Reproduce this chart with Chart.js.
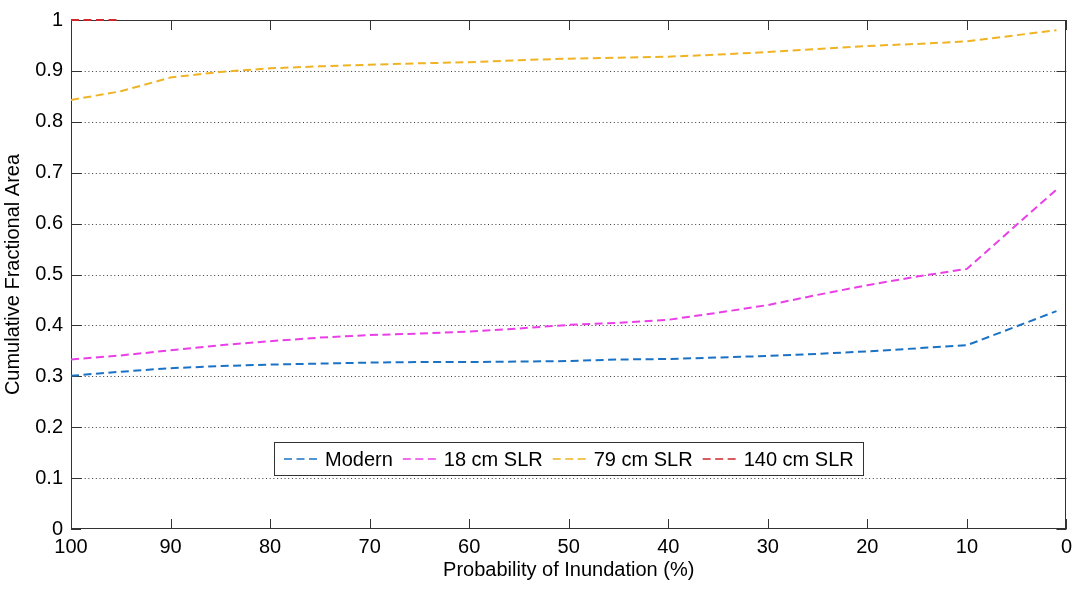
<!DOCTYPE html>
<html>
<head>
<meta charset="utf-8">
<script src="https://cdn.jsdelivr.net/npm/chart.js@4.4.1/dist/chart.umd.min.js"></script>
<style>
  html, body { margin: 0; padding: 0; background: #fff; }
  #wrap { width: 1078px; height: 589px; position: relative; }
</style>
</head>
<body>
<div id="wrap"><canvas id="chart"></canvas></div>
<script>
// Probability of inundation (%) at which each cumulative area was evaluated
const probability = [100, 95, 90, 85, 80, 75, 70, 65, 60, 55, 50, 45, 40, 35, 30, 25, 20, 15, 10, 1];

// Cumulative fractional area per sea-level scenario
const modern = [0.301, 0.309, 0.316, 0.320, 0.323, 0.325, 0.327, 0.328, 0.328, 0.329, 0.330, 0.333, 0.334, 0.337, 0.340, 0.344, 0.349, 0.355, 0.361, 0.428];
const slr18  = [0.333, 0.341, 0.351, 0.361, 0.369, 0.376, 0.381, 0.384, 0.388, 0.394, 0.401, 0.405, 0.411, 0.425, 0.440, 0.460, 0.479, 0.496, 0.511, 0.667];
const slr79  = [0.843, 0.860, 0.887, 0.898, 0.905, 0.909, 0.912, 0.915, 0.917, 0.921, 0.924, 0.926, 0.928, 0.932, 0.937, 0.943, 0.949, 0.953, 0.958, 0.980];

// The 140 cm scenario is fully inundated over its short range
const probability140 = [100, 95];
const slr140 = [1, 1];

const seriesNames = ['Modern', '18 cm SLR', '79 cm SLR', '140 cm SLR'];

const xTickValues = [100, 90, 80, 70, 60, 50, 40, 30, 20, 10, 0];
const yTickValues = [0, 0.1, 0.2, 0.3, 0.4, 0.5, 0.6, 0.7, 0.8, 0.9, 1];
const yTickLabels = ['0', '0.1', '0.2', '0.3', '0.4', '0.5', '0.6', '0.7', '0.8', '0.9', '1'];

const lineColors = ['#1b72c4', '#ea3fe6', '#efb323', '#d0262e'];
const FONT = '"Liberation Sans", Arial, Helvetica, sans-serif';

Chart.defaults.font.family = FONT;
Chart.defaults.color = '#000';

const pairs = (xs, ys) => xs.map((v, i) => ({ x: v, y: ys[i] }));

function lineDataset(label, points, color) {
  return {
    label,
    data: points,
    borderColor: color,
    backgroundColor: color,
    borderWidth: 2,
    borderDash: [8, 4.5],
    pointRadius: 0,
    pointHoverRadius: 0,
    tension: 0,
    fill: false,
    clip: 3
  };
}

// Axis box, inward tick marks and dotted horizontal grid
const framePlugin = {
  id: 'frame',
  beforeDatasetsDraw(chart) {
    const { ctx, chartArea: a, scales: { x, y } } = chart;
    const tl = 10;
    ctx.save();
    ctx.lineWidth = 1;
    ctx.strokeStyle = '#3a3a3a';
    ctx.setLineDash([1, 2.7]);
    y.ticks.forEach(t => {
      if (t.value <= y.min || t.value >= y.max) return;
      const py = Math.round(y.getPixelForValue(t.value)) + 0.5;
      ctx.beginPath();
      ctx.moveTo(a.left + tl, py);
      ctx.lineTo(a.right - tl, py);
      ctx.stroke();
    });
    ctx.setLineDash([]);
    ctx.strokeStyle = '#333';
    x.ticks.forEach(t => {
      const px = Math.round(x.getPixelForValue(t.value)) + 0.5;
      ctx.beginPath();
      ctx.moveTo(px, a.bottom); ctx.lineTo(px, a.bottom - tl);
      ctx.moveTo(px, a.top); ctx.lineTo(px, a.top + tl);
      ctx.stroke();
    });
    y.ticks.forEach(t => {
      const py = Math.round(y.getPixelForValue(t.value)) + 0.5;
      ctx.beginPath();
      ctx.moveTo(a.left, py); ctx.lineTo(a.left + tl, py);
      ctx.moveTo(a.right, py); ctx.lineTo(a.right - tl, py);
      ctx.stroke();
    });
    ctx.strokeRect(Math.round(a.left) + 0.5, Math.round(a.top) + 0.5,
                   Math.round(a.width) - 1, Math.round(a.height) - 1);
    ctx.restore();
  }
};

// Boxed horizontal legend inside the lower part of the plot
const legendPlugin = {
  id: 'boxLegend',
  afterDatasetsDraw(chart) {
    const { ctx, chartArea: a } = chart;
    const sample = 37, gapSample = 4, gapItem = 10, padL = 10, padR = 9, h = 33;
    ctx.save();
    ctx.font = '20px ' + FONT;
    const items = chart.data.datasets.map(ds => ({
      label: ds.label, color: ds.borderColor, w: ctx.measureText(ds.label).width
    }));
    let total = padL + padR;
    items.forEach((it, i) => {
      total += sample + gapSample + it.w + (i < items.length - 1 ? gapItem : 0);
    });
    const left = Math.round((a.left + a.right) / 2 - total / 2);
    const top = Math.round(a.bottom - 87);
    ctx.fillStyle = '#fff';
    ctx.fillRect(left, top, total, h);
    ctx.strokeStyle = '#333';
    ctx.lineWidth = 1;
    ctx.strokeRect(left + 0.5, top + 0.5, Math.round(total), h);
    let xx = left + padL;
    const cy = top + h / 2 + 0.5;
    items.forEach(it => {
      ctx.strokeStyle = it.color;
      ctx.lineWidth = 1.6;
      ctx.setLineDash([8, 4.5]);
      ctx.beginPath();
      ctx.moveTo(xx, cy);
      ctx.lineTo(xx + sample, cy);
      ctx.stroke();
      ctx.setLineDash([]);
      xx += sample + gapSample;
      ctx.fillStyle = '#000';
      ctx.textBaseline = 'middle';
      ctx.textAlign = 'left';
      ctx.fillText(it.label, xx, cy + 1);
      xx += it.w + gapItem;
    });
    ctx.restore();
  }
};

new Chart(document.getElementById('chart'), {
  type: 'line',
  data: {
    datasets: [
      lineDataset(seriesNames[0], pairs(probability, modern), lineColors[0]),
      lineDataset(seriesNames[1], pairs(probability, slr18), lineColors[1]),
      lineDataset(seriesNames[2], pairs(probability, slr79), lineColors[2]),
      lineDataset(seriesNames[3], pairs(probability140, slr140), lineColors[3])
    ]
  },
  options: {
    responsive: true,
    maintainAspectRatio: false,
    animation: false,
    events: [],
    layout: { padding: { top: 16, right: 9, left: 0, bottom: 0 } },
    plugins: {
      legend: { display: false },
      tooltip: { enabled: false }
    },
    scales: {
      x: {
        type: 'linear',
        min: 0,
        max: 100,
        reverse: true,
        afterBuildTicks: s => { s.ticks = xTickValues.map(v => ({ value: v })); },
        afterFit: s => { s.height = 60; },
        grid: { display: false, drawTicks: false },
        border: { display: false },
        ticks: {
          autoSkip: false,
          maxRotation: 0,
          padding: 6,
          font: { size: 20 },
          color: '#000',
          callback: v => String(v)
        },
        title: {
          display: true,
          text: 'Probability of Inundation (%)',
          font: { size: 20 },
          color: '#000',
          padding: { top: 0, bottom: 7 }
        }
      },
      y: {
        type: 'linear',
        min: 0,
        max: 1,
        afterBuildTicks: s => { s.ticks = yTickValues.map(v => ({ value: v })); },
        afterFit: s => { s.width = 71; },
        grid: { display: false, drawTicks: false },
        border: { display: false },
        ticks: {
          autoSkip: false,
          padding: 8,
          font: { size: 20 },
          color: '#000',
          callback: (v) => {
            const i = yTickValues.findIndex(t => Math.abs(t - v) < 1e-9);
            return i >= 0 ? yTickLabels[i] : '';
          }
        },
        title: {
          display: true,
          text: 'Cumulative Fractional Area',
          font: { size: 20 },
          color: '#000',
          padding: { top: 1, bottom: 0 }
        }
      }
    }
  },
  plugins: [framePlugin, legendPlugin]
});
</script>
</body>
</html>
